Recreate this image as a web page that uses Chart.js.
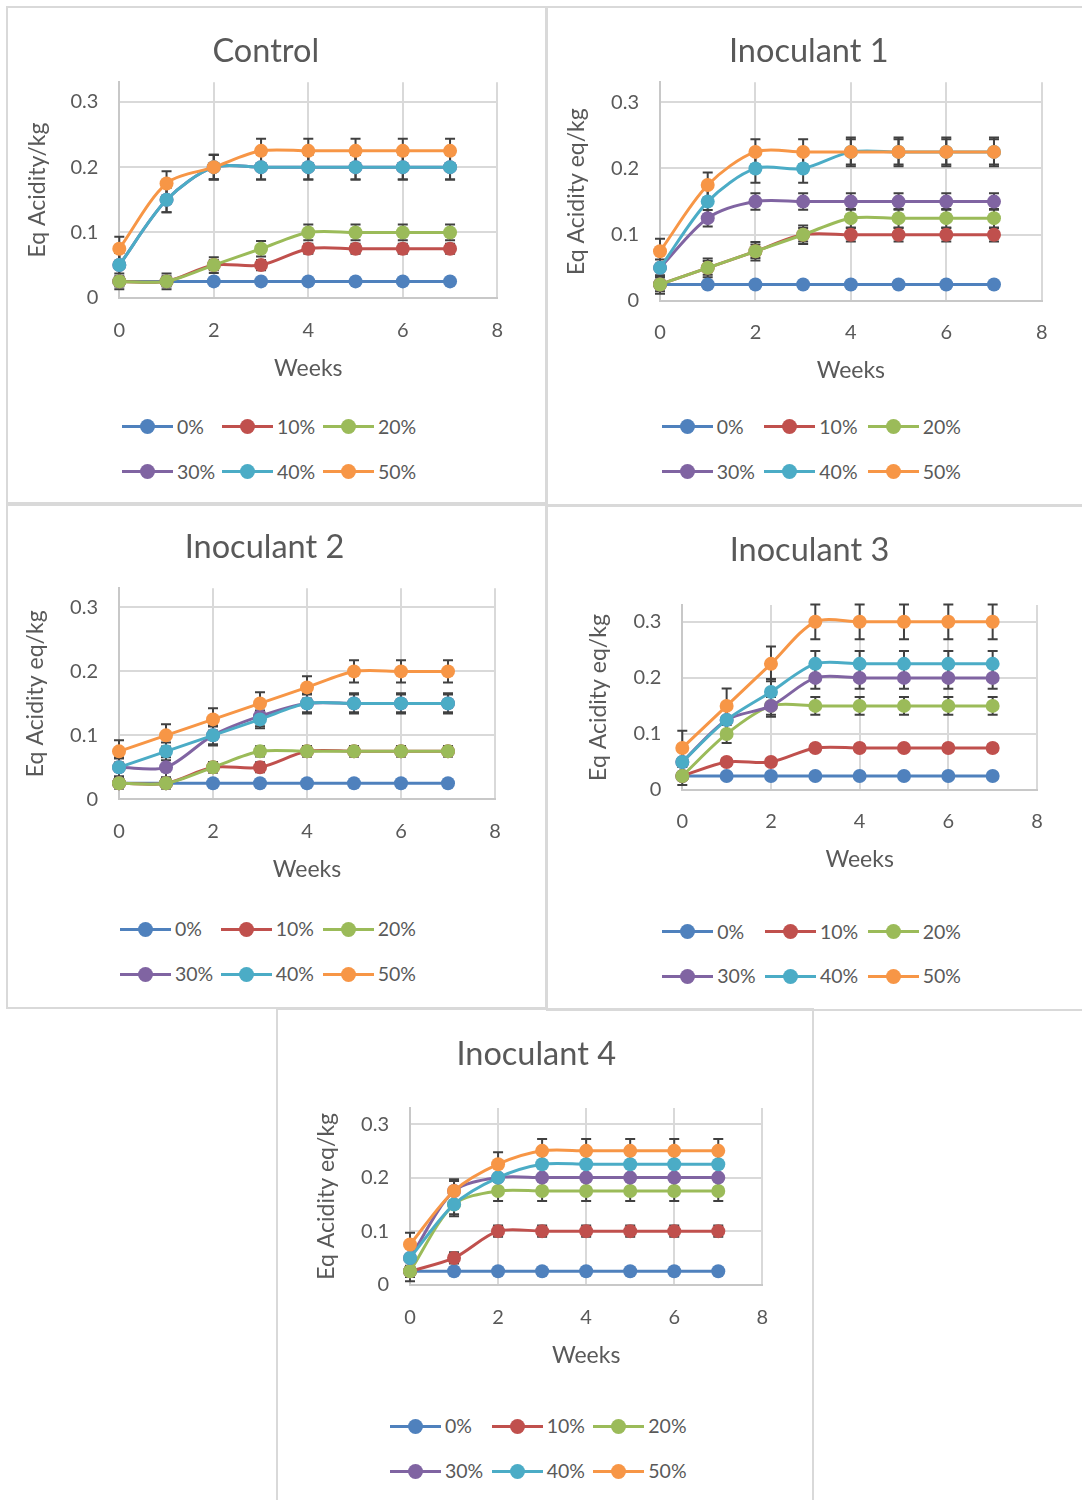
<!DOCTYPE html>
<html>
<head>
<meta charset="utf-8">
<title>Eq Acidity over weeks</title>
<script src="https://cdn.jsdelivr.net/npm/chart.js@4.4.1/dist/chart.umd.min.js"></script>
<style>
  html, body { margin: 0; padding: 0; background: #fff; }
  body { width: 1082px; height: 1500px; position: relative; overflow: hidden; font-family: Lato, sans-serif; color: #595959; }
  .panel { position: absolute; box-sizing: border-box; border: 2px solid #d9d9d9; }
  canvas { position: absolute; }
  .lg { position: absolute; height: 24px; display: flex; align-items: center; font-size: 19.5px; line-height: 24px; white-space: nowrap; }
  .lg .sw { position: relative; width: 51px; height: 24px; margin-right: 4px; }
  .lg .sw i { position: absolute; left: 0; top: 10.5px; width: 51px; height: 3px; }
  .lg .sw b { position: absolute; left: 18px; top: 4.5px; width: 15px; height: 15px; border-radius: 50%; }
</style>
</head>
<body>
<script>
// data
var weeks = [0, 1, 2, 3, 4, 5, 6, 7];
var levels = ['0%', '10%', '20%', '30%', '40%', '50%'];
var xTicks = [0, 2, 4, 6, 8];
var yTicks = [0, 0.1, 0.2, 0.3];

var controlValues = [
    [0.025, 0.025, 0.025, 0.025, 0.025, 0.025, 0.025, 0.025],
    [0.025, 0.025, 0.05, 0.05, 0.075, 0.075, 0.075, 0.075],
    [0.025, 0.025, 0.05, 0.075, 0.1, 0.1, 0.1, 0.1],
    [0.05, 0.15, 0.2, 0.2, 0.2, 0.2, 0.2, 0.2],
    [0.05, 0.15, 0.2, 0.2, 0.2, 0.2, 0.2, 0.2],
    [0.075, 0.175, 0.2, 0.225, 0.225, 0.225, 0.225, 0.225]
];
var inoc1Values = [
    [0.025, 0.025, 0.025, 0.025, 0.025, 0.025, 0.025, 0.025],
    [0.025, 0.05, 0.075, 0.1, 0.1, 0.1, 0.1, 0.1],
    [0.025, 0.05, 0.075, 0.1, 0.125, 0.125, 0.125, 0.125],
    [0.05, 0.125, 0.15, 0.15, 0.15, 0.15, 0.15, 0.15],
    [0.05, 0.15, 0.2, 0.2, 0.225, 0.225, 0.225, 0.225],
    [0.075, 0.175, 0.225, 0.225, 0.225, 0.225, 0.225, 0.225]
];
var inoc2Values = [
    [0.025, 0.025, 0.025, 0.025, 0.025, 0.025, 0.025, 0.025],
    [0.025, 0.025, 0.05, 0.05, 0.075, 0.075, 0.075, 0.075],
    [0.025, 0.025, 0.05, 0.075, 0.075, 0.075, 0.075, 0.075],
    [0.05, 0.05, 0.1, 0.13, 0.15, 0.15, 0.15, 0.15],
    [0.05, 0.075, 0.1, 0.125, 0.15, 0.15, 0.15, 0.15],
    [0.075, 0.1, 0.125, 0.15, 0.175, 0.2, 0.2, 0.2]
];
var inoc3Values = [
    [0.025, 0.025, 0.025, 0.025, 0.025, 0.025, 0.025, 0.025],
    [0.025, 0.05, 0.05, 0.075, 0.075, 0.075, 0.075, 0.075],
    [0.025, 0.1, 0.15, 0.15, 0.15, 0.15, 0.15, 0.15],
    [0.05, 0.125, 0.15, 0.2, 0.2, 0.2, 0.2, 0.2],
    [0.05, 0.125, 0.175, 0.225, 0.225, 0.225, 0.225, 0.225],
    [0.075, 0.15, 0.225, 0.3, 0.3, 0.3, 0.3, 0.3]
];
var inoc4Values = [
    [0.025, 0.025, 0.025, 0.025, 0.025, 0.025, 0.025, 0.025],
    [0.025, 0.05, 0.1, 0.1, 0.1, 0.1, 0.1, 0.1],
    [0.025, 0.15, 0.175, 0.175, 0.175, 0.175, 0.175, 0.175],
    [0.05, 0.175, 0.2, 0.2, 0.2, 0.2, 0.2, 0.2],
    [0.05, 0.15, 0.2, 0.225, 0.225, 0.225, 0.225, 0.225],
    [0.075, 0.175, 0.225, 0.25, 0.25, 0.25, 0.25, 0.25]
];

var colors = ['#4F81BD', '#C0504D', '#9BBB59', '#8064A2', '#4BACC6', '#F79646'];
var TEXT = '#595959';
var TITLE_SIZE = 32.5, AXIS_SIZE = 23, TICK_SIZE = 20;

// page positions of each panel (px)
var panels = [
    { title: 'Control', yLabel: 'Eq Acidity/kg', values: controlValues,
      box: [6, 6, 541, 498], cx: 8, cy: 8, titleCX: 265.8, titleY: 52,
      PL: 119.3, PR: 497.3, PT: 82.3, PB: 297.7, yLabX: 37.3, xTickY: 330, weeksY: 369,
      rows: [426.7, 471.7], cols: [122, 222, 323] },
    { title: 'Inoculant 1', yLabel: 'Eq Acidity eq/kg', values: inoc1Values,
      box: [546, 6, 540, 500], cx: 548, cy: 8, titleCX: 808.8, titleY: 52,
      PL: 660, PR: 1041.7, PT: 82.3, PB: 301, yLabX: 576.7, xTickY: 332, weeksY: 370.7,
      rows: [426.7, 471.7], cols: [661.7, 764.3, 867.7] },
    { title: 'Inoculant 2', yLabel: 'Eq Acidity eq/kg', values: inoc2Values,
      box: [6, 504, 541, 505], cx: 8, cy: 506, titleCX: 264.5, titleY: 548,
      PL: 119, PR: 495, PT: 588.3, PB: 799.3, yLabX: 35.8, xTickY: 831, weeksY: 870,
      rows: [929.3, 974.3], cols: [120, 220.7, 322.7] },
    { title: 'Inoculant 3', yLabel: 'Eq Acidity eq/kg', values: inoc3Values,
      box: [546, 505, 540, 506], cx: 548, cy: 507, titleCX: 809.5, titleY: 550.7,
      PL: 682.3, PR: 1037, PT: 605, PB: 790, yLabX: 598.3, xTickY: 821, weeksY: 860,
      rows: [931.7, 976], cols: [662.3, 765, 867.7] },
    { title: 'Inoculant 4', yLabel: 'Eq Acidity eq/kg', values: inoc4Values,
      box: [276, 1008, 538, 495], cx: 278, cy: 1010, titleCX: 536.2, titleY: 1054.7,
      PL: 410, PR: 762.3, PT: 1108, PB: 1284.7, yLabX: 326.7, xTickY: 1316.3, weeksY: 1355.3,
      rows: [1426.3, 1471.3], cols: [390, 491.7, 593.3] }
];

// Excel "Standard Error" bars: one value per series
function stdErr(vals) {
    var n = vals.length, mean = 0, ss = 0;
    vals.forEach(function(v) { mean += v / n; });
    vals.forEach(function(v) { ss += (v - mean) * (v - mean); });
    return Math.sqrt(ss / (n - 1)) / Math.sqrt(n);
}

var errorBars = {
    id: 'errorBars',
    beforeDatasetsDraw: function(chart) {
        var ctx = chart.ctx, xs = chart.scales.x, ys = chart.scales.y;
        ctx.save();
        ctx.strokeStyle = '#404040';
        ctx.lineWidth = 2;
        chart.data.datasets.forEach(function(ds) {
            var e = stdErr(ds.data.map(function(p) { return p.y; }));
            if (e < 1e-6) return;
            ds.data.forEach(function(p) {
                var x = xs.getPixelForValue(p.x);
                var y0 = ys.getPixelForValue(p.y - e), y1 = ys.getPixelForValue(p.y + e);
                ctx.beginPath();
                ctx.moveTo(x, y0); ctx.lineTo(x, y1);
                ctx.moveTo(x - 5, y0); ctx.lineTo(x + 5, y0);
                ctx.moveTo(x - 5, y1); ctx.lineTo(x + 5, y1);
                ctx.stroke();
            });
        });
        ctx.restore();
    }
};

// title drawn at its own centre (the reference titles are not centred on the plot)
var panelTitle = {
    id: 'panelTitle',
    afterDraw: function(chart, args, opts) {
        var ctx = chart.ctx;
        ctx.save();
        ctx.font = 'normal ' + TITLE_SIZE + 'px Lato';
        ctx.fillStyle = TEXT;
        ctx.textAlign = 'center';
        ctx.textBaseline = 'middle';
        ctx.fillText(opts.text, opts.x, opts.y);
        ctx.restore();
    }
};

function addLegend(p) {
    levels.forEach(function(name, i) {
        var item = document.createElement('div');
        item.className = 'lg';
        item.style.left = p.cols[i % 3] + 'px';
        item.style.top = (p.rows[Math.floor(i / 3)] - 12) + 'px';
        item.innerHTML = '<span class="sw"><i style="background:' + colors[i] + '"></i><b style="background:' + colors[i] + '"></b></span>' + name;
        document.body.appendChild(item);
    });
}

function makeChart(p) {
    var box = document.createElement('div');
    box.className = 'panel';
    box.style.left = p.box[0] + 'px';
    box.style.top = p.box[1] + 'px';
    box.style.width = p.box[2] + 'px';
    box.style.height = p.box[3] + 'px';
    document.body.appendChild(box);

    var cw = Math.round(p.PR - p.cx + 30);
    var ch = Math.round(p.weeksY + 24 - p.cy);
    var cv = document.createElement('canvas');
    cv.width = cw; cv.height = ch;
    cv.style.left = p.cx + 'px'; cv.style.top = p.cy + 'px';
    cv.style.width = cw + 'px'; cv.style.height = ch + 'px';
    document.body.appendChild(cv);

    var L = p.PL - p.cx, R = p.PR - p.cx, T = p.PT - p.cy, B = p.PB - p.cy;
    var axisLH = AXIS_SIZE * 1.2;
    var xBottom = p.weeksY - p.cy + axisLH / 2;

    var gridOpts = { color: '#d9d9d9', lineWidth: 2, drawTicks: false };
    var borderOpts = { color: '#c8c8c8', width: 2 };

    new Chart(cv, {
        type: 'line',
        data: {
            datasets: p.values.map(function(vals, i) {
                return {
                    label: levels[i],
                    data: weeks.map(function(w, k) { return { x: w, y: vals[k] }; }),
                    borderColor: colors[i],
                    backgroundColor: colors[i],
                    pointBackgroundColor: colors[i],
                    pointBorderColor: colors[i],
                    pointBorderWidth: 0,
                    pointRadius: 7,
                    borderWidth: 3,
                    tension: 0.3,
                    clip: false,
                    order: levels.length - 1 - i
                };
            })
        },
        options: {
            responsive: false,
            animation: false,
            events: [],
            layout: { padding: { left: 0, top: T, right: cw - R, bottom: ch - xBottom } },
            plugins: {
                legend: { display: false },
                tooltip: { enabled: false },
                title: { display: false },
                panelTitle: { text: p.title, x: p.titleCX - p.cx, y: p.titleY - p.cy }
            },
            scales: {
                x: {
                    type: 'linear', min: 0, max: 8,
                    afterBuildTicks: function(s) { s.ticks = xTicks.map(function(v) { return { value: v }; }); },
                    afterFit: function(s) { s.height = xBottom - B; },
                    grid: gridOpts, border: borderOpts,
                    ticks: { padding: p.xTickY - p.PB - 11, color: TEXT, font: { family: 'Lato', size: TICK_SIZE } },
                    title: { display: true, text: 'Weeks', color: TEXT, padding: 0,
                             font: { family: 'Lato', size: AXIS_SIZE } }
                },
                y: {
                    type: 'linear', min: 0, max: 0.33,
                    afterBuildTicks: function(s) { s.ticks = yTicks.map(function(v) { return { value: v }; }); },
                    afterFit: function(s) { s.width = L; },
                    grid: gridOpts, border: borderOpts,
                    ticks: { padding: 21, color: TEXT, font: { family: 'Lato', size: TICK_SIZE },
                             callback: function(v) { return String(v); } },
                    title: { display: true, text: p.yLabel, color: TEXT,
                             padding: { top: p.yLabX - p.cx - axisLH / 2, bottom: 0 },
                             font: { family: 'Lato', size: AXIS_SIZE } }
                }
            }
        },
        plugins: [errorBars, panelTitle]
    });
    addLegend(p);
}

function build() {
    Chart.defaults.font.family = 'Lato';
    panels.forEach(makeChart);
}

if (document.fonts && document.fonts.load) {
    document.fonts.load('20px Lato').then(build, build);
} else {
    build();
}
</script>
</body>
</html>
